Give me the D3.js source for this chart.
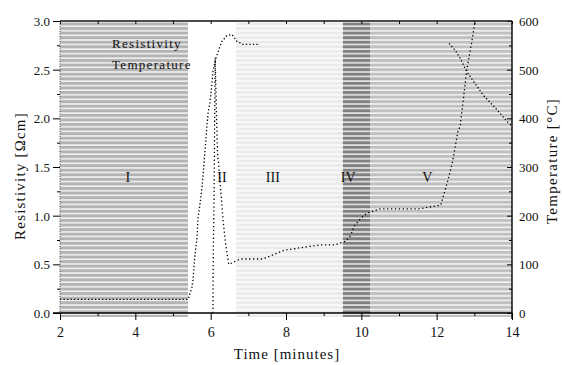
<!DOCTYPE html>
<html>
<head>
<meta charset="utf-8">
<script src="https://cdn.jsdelivr.net/npm/d3@7"></script>
<style>
    body { margin: 0; background: #fff; }
    svg text { font-family: "Liberation Serif", "Times New Roman", Times, serif; fill: #111; }
</style>
</head>
<body>
<svg id="chart" width="562" height="365"></svg>
<script>

// phases of the run (time in minutes)
const phaseNames = ['I', 'II', 'III', 'IV', 'V'];
const phaseStart = [2.0, 5.40, 6.67, 9.51, 10.23];
const phaseEnd = [5.40, 6.67, 9.51, 10.23, 14.0];
const phaseColors = ['#b3b3b3', '#ffffff', '#ebebeb', '#808080', '#c0c0c0'];
const phaseLabelTime = [3.8, 6.3, 7.65, 9.65, 11.75];
const phaseLabelValue = 1.4;

// resistivity [Ohm cm], left axis (null = not visible in the original)
const resTime = [2.0, 3.0, 4.0, 5.0, 5.40, 5.42, 5.50, 5.53, 5.58, 5.64, 5.66, 5.72, 5.77, 5.82,
    5.88, 5.90, 5.93, 5.98, 6.04, 6.06, 6.11, 6.14, 6.22, 6.27, 6.30, 6.43, 6.57, 6.70, 6.86, 7.31,
    7.32, 12.32, 12.33, 12.49, 12.62, 12.80, 12.96, 13.23, 13.55, 13.89, 14.0];
const resValue = [0.14, 0.14, 0.14, 0.14, 0.14, 0.16, 0.26, 0.34, 0.58, 0.78, 0.96, 1.13, 1.29, 1.52,
    1.81, 1.92, 2.05, 2.16, 2.38, 2.48, 2.57, 2.62, 2.71, 2.76, 2.79, 2.85, 2.86, 2.79, 2.76, 2.76,
    null, null, 2.77, 2.70, 2.62, 2.48, 2.39, 2.24, 2.11, 1.96, 1.92];

// temperature [deg C], right axis
const tempTime = [6.06, 6.07, 6.09, 6.10, 6.11, 6.12, 6.15, 6.18, 6.22, 6.27, 6.33, 6.40, 6.48, 6.57,
    6.78, 7.07, 7.40, 7.70, 7.95, 8.90, 9.30, 9.60, 9.70, 9.75, 9.80, 9.90, 9.99, 10.15, 10.50,
    10.95, 11.55, 12.11, 12.30, 12.43, 12.57, 12.62, 12.80, 12.94, 13.02];
const tempValue = [0, 129, 232, 335, 438, 524, 420, 330, 300, 250, 190, 140, 100, 103,
    111, 111, 111, 121, 129, 140, 140, 148, 158, 166, 177, 187, 195, 205, 214,
    214, 214, 222, 273, 314, 376, 382, 499, 561, 600];

const xTicks = [2, 4, 6, 8, 10, 12, 14];
const resTicks = [0.0, 0.5, 1.0, 1.5, 2.0, 2.5, 3.0];
const tempTicks = [0, 100, 200, 300, 400, 500, 600];
const legendLabels = ['Resistivity', 'Temperature'];

const svg = d3.select('#chart');
const plotLeft = 60, plotRight = 512, plotTop = 21, plotBottom = 313;

const xScale = d3.scaleLinear().domain([2, 14]).range([plotLeft, plotRight]);
const yRes = d3.scaleLinear().domain([0, 3]).range([plotBottom, plotTop]);
const yTemp = d3.scaleLinear().domain([0, 600]).range([plotBottom, plotTop]);

// white stripes over the shaded phases
const defs = svg.append('defs');
const pat = defs.append('pattern')
    .attr('id', 'stripes')
    .attr('patternUnits', 'userSpaceOnUse')
    .attr('width', 20)
    .attr('height', 4.57)
    .attr('y', 22.5);
pat.append('rect')
    .attr('x', 0).attr('y', 3.1)
    .attr('width', 20).attr('height', 1.3)
    .attr('fill', '#fff');

const bandTop = yRes(2.985), bandBottom = yRes(-0.04);

svg.append('g')
    .selectAll('rect')
    .data(phaseNames)
    .enter()
    .append('rect')
    .attr('x', (_, i) => xScale(phaseStart[i]))
    .attr('y', bandTop)
    .attr('width', (_, i) => xScale(phaseEnd[i]) - xScale(phaseStart[i]))
    .attr('height', bandBottom - bandTop)
    .attr('fill', (_, i) => phaseColors[i]);

svg.append('rect')
    .attr('x', plotLeft)
    .attr('y', bandTop)
    .attr('width', plotRight - plotLeft)
    .attr('height', bandBottom - bandTop)
    .attr('fill', 'url(#stripes)');

svg.append('g')
    .selectAll('text')
    .data(phaseNames)
    .enter()
    .append('text')
    .attr('x', (_, i) => xScale(phaseLabelTime[i]))
    .attr('y', yRes(phaseLabelValue) + 5)
    .attr('text-anchor', 'middle')
    .attr('font-size', 14)
    .text(d => d);

// curves
const resData = resTime.map((t, i) => [t, resValue[i]]);
const tempData = tempTime.map((t, i) => [t, tempValue[i]]);

const resLine = d3.line()
    .defined(d => d[1] !== null)
    .x(d => xScale(d[0]))
    .y(d => yRes(d[1]));

const tempLine = d3.line()
    .x(d => xScale(d[0]))
    .y(d => yTemp(d[1]));

svg.append('path')
    .datum(resData)
    .attr('d', resLine)
    .attr('fill', 'none')
    .attr('stroke', '#000')
    .attr('stroke-width', 1.3)
    .attr('stroke-dasharray', '1.3,2.2');

svg.append('path')
    .datum(tempData)
    .attr('d', tempLine)
    .attr('fill', 'none')
    .attr('stroke', '#000')
    .attr('stroke-width', 1.3)
    .attr('stroke-dasharray', '1.3,2.6');

// axes
const bottomAxis = svg.append('g')
    .attr('transform', `translate(0, ${plotBottom})`)
    .call(d3.axisBottom(xScale).tickValues(d3.range(2, 14.01, 1))
        .tickSize(6).tickFormat(''));
bottomAxis.selectAll('.tick line')
    .attr('y2', d => d % 2 === 0 ? 7 : 3);
bottomAxis.selectAll('.tick')
    .filter(d => xTicks.includes(d))
    .append('text')
    .attr('y', 24)
    .attr('font-size', 14)
    .attr('text-anchor', 'middle')
    .text(d => d);

const topAxis = svg.append('g')
    .attr('transform', `translate(0, ${plotTop})`)
    .call(d3.axisBottom(xScale).tickValues(d3.range(2, 14.01, 1)).tickSize(3).tickFormat(''));

const leftAxis = svg.append('g')
    .attr('transform', `translate(${plotLeft}, 0)`)
    .call(d3.axisLeft(yRes).tickValues(d3.range(0, 3.01, 0.25)).tickSize(6).tickFormat(''));
leftAxis.selectAll('.tick line')
    .attr('x2', d => Math.abs(d * 2 - Math.round(d * 2)) < 1e-6 ? -7 : -3);
leftAxis.selectAll('.tick')
    .filter(d => resTicks.some(v => Math.abs(v - d) < 1e-6))
    .append('text')
    .attr('x', -10)
    .attr('dy', '0.34em')
    .attr('font-size', 13)
    .attr('text-anchor', 'end')
    .text(d => d3.format('.1f')(d));

const rightAxis = svg.append('g')
    .attr('transform', `translate(${plotRight}, 0)`)
    .call(d3.axisLeft(yTemp).tickValues(d3.range(0, 601, 50)).tickSize(4).tickFormat(''));
rightAxis.selectAll('.tick line')
    .attr('x2', d => d % 100 === 0 ? -5 : -3);
rightAxis.selectAll('.tick')
    .filter(d => tempTicks.includes(d))
    .append('text')
    .attr('x', 7)
    .attr('dy', '0.34em')
    .attr('font-size', 13)
    .attr('text-anchor', 'start')
    .text(d => d);

[bottomAxis, topAxis, leftAxis, rightAxis].forEach(ax => {
    ax.select('.domain').remove();
    ax.selectAll('.tick line').attr('stroke', '#000');
});

// frame lines
svg.append('line').attr('x1', plotLeft - 7).attr('x2', plotRight).attr('y1', plotBottom).attr('y2', plotBottom)
    .attr('stroke', '#000').attr('stroke-width', 1.6);
svg.append('line').attr('x1', plotLeft).attr('x2', plotRight).attr('y1', plotTop).attr('y2', plotTop)
    .attr('stroke', '#111').attr('stroke-width', 1.4);
svg.append('line').attr('x1', plotRight).attr('x2', plotRight).attr('y1', plotTop).attr('y2', plotBottom + 6)
    .attr('stroke', '#000').attr('stroke-width', 1.4);
svg.append('line').attr('x1', plotLeft).attr('x2', plotLeft).attr('y1', plotTop).attr('y2', plotBottom)
    .attr('stroke', '#444').attr('stroke-width', 1).attr('stroke-dasharray', '1,1.5');

// legend
svg.append('g')
    .selectAll('text')
    .data(legendLabels)
    .enter()
    .append('text')
    .attr('x', 112)
    .attr('y', (_, i) => 48 + i * 21)
    .attr('font-size', 13)
    .attr('letter-spacing', 1.3)
    .text(d => d);

// titles
svg.append('text')
    .attr('transform', 'translate(25, 176) rotate(-90)')
    .attr('text-anchor', 'middle')
    .attr('font-size', 15)
    .attr('letter-spacing', 1.2)
    .text('Resistivity [Ωcm]');

svg.append('text')
    .attr('transform', 'translate(557, 161) rotate(-90)')
    .attr('text-anchor', 'middle')
    .attr('font-size', 15)
    .attr('letter-spacing', 1.3)
    .text('Temperature [°C]');

svg.append('text')
    .attr('x', 287)
    .attr('y', 359)
    .attr('text-anchor', 'middle')
    .attr('font-size', 15)
    .attr('letter-spacing', 1)
    .text('Time [minutes]');

</script>
</body>
</html>
